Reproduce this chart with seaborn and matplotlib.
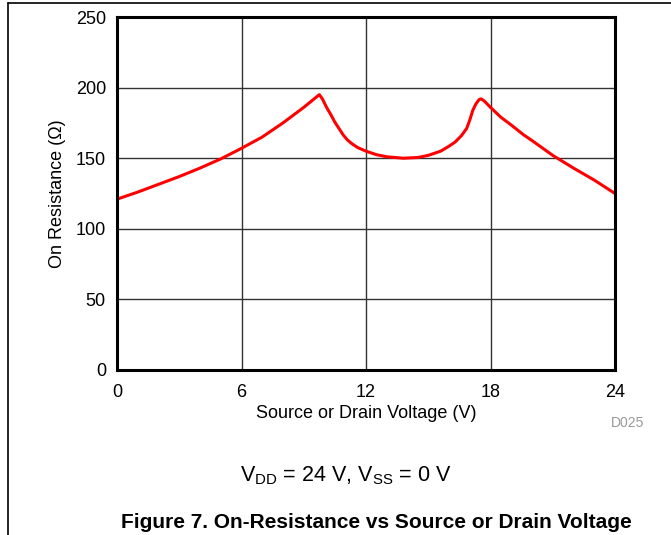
import matplotlib
matplotlib.use("Agg")
import matplotlib.pyplot as plt
from matplotlib.lines import Line2D
import seaborn as sns
import pandas as pd

# values
voltage = [0, 1, 2, 3, 4, 5, 6, 7, 8, 9, 9.5, 9.75, 9.9, 10.1, 10.3, 10.5,
           10.7, 10.9, 11.1, 11.3, 11.6, 12, 12.5, 13, 13.8, 14.5, 15, 15.6,
           16, 16.3, 16.6, 16.85, 17.0, 17.15, 17.3, 17.45, 17.55, 17.7, 18,
           18.5, 19, 19.6, 20, 21, 22, 23, 24]
resistance = [121, 126, 131.5, 137, 143, 149.5, 157, 165, 175, 186, 192, 195,
              192, 186, 181, 175.5, 171, 166.5, 163, 160.5, 157.5, 155, 152.5,
              151, 150, 150.5, 152, 155, 158.5, 161.5, 166, 171, 177, 184,
              188.5, 191.5, 192, 190.5, 186, 179, 173.5, 166.5, 162.5, 152,
              143, 134.5, 125]
x_ticks = [0, 6, 12, 18, 24]
y_ticks = [0, 50, 100, 150, 200, 250]

df = pd.DataFrame({"voltage": voltage, "resistance": resistance})

sns.set_theme(style="white")
plt.rcParams["font.family"] = ["Liberation Sans", "DejaVu Sans"]
plt.rcParams["text.color"] = "black"
plt.rcParams["axes.labelcolor"] = "black"

W, H = 671, 535
fig = plt.figure(figsize=(W / 100, H / 100), dpi=100)
ax = fig.add_axes([117 / W, 1 - 370 / H, (615 - 117) / W, (370 - 17) / H])

sns.lineplot(data=df, x="voltage", y="resistance", color="red", lw=2.2, ax=ax)

ax.set_xlim(0, 24)
ax.set_ylim(0, 250)
ax.set_xticks(x_ticks)
ax.set_yticks(y_ticks)
ax.grid(True, color="#333333", lw=1.0)
ax.tick_params(length=0, labelsize=13, colors="black")
ax.tick_params(axis="x", pad=10)
ax.tick_params(axis="y", pad=8)
for s in ax.spines.values():
    s.set_color("black")
    s.set_linewidth(2.2)

ax.set_xlabel("Source or Drain Voltage (V)", fontsize=13, labelpad=3)
ax.set_ylabel("On Resistance (Ω)", fontsize=13, labelpad=7)

fig.text(628 / W, 1 - 423 / H, "D025", fontsize=10, color="#999999",
         ha="center", va="center")
fig.text(346 / W, 1 - 476 / H, "V$_{\\mathregular{DD}}$ = 24 V, V$_{\\mathregular{SS}}$ = 0 V",
         fontsize=15.5, ha="center", va="center")
fig.text(376 / W, 1 - 522 / H, "Figure 7. On-Resistance vs Source or Drain Voltage",
         fontsize=15, fontweight="bold", ha="center", va="center")

# page frame lines
fig.add_artist(Line2D([8 / W, 8 / W], [0, 1 - 3 / H], color="black", lw=1.2,
                      transform=fig.transFigure))
fig.add_artist(Line2D([8 / W, 1], [1 - 3 / H, 1 - 3 / H], color="black", lw=1.2,
                      transform=fig.transFigure))

fig.savefig("out.png", dpi=100)
